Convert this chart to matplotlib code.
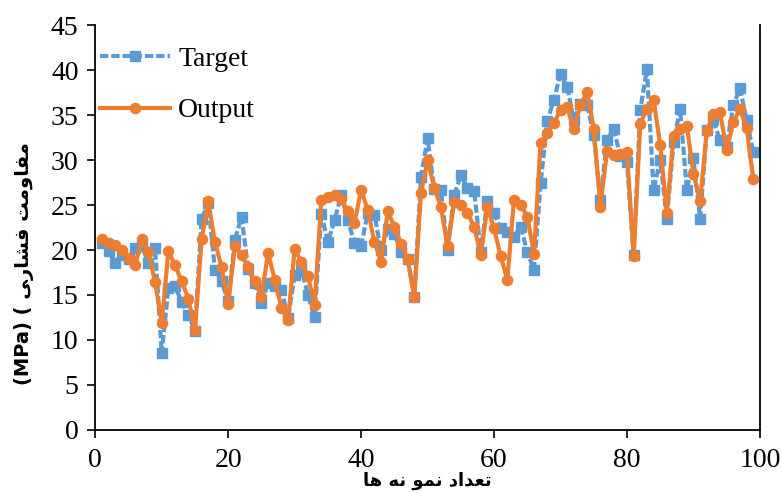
import numpy as np
import matplotlib.pyplot as plt

samples = list(range(1, 100))

target = [20.8, 19.9, 18.6, 19.5, 19.0, 20.2, 20.5, 18.5, 20.2, 8.5,
          15.8, 16.0, 14.2, 12.8, 11.0, 23.5, 25.2, 17.8, 16.5, 14.3,
          21.1, 23.7, 17.9, 16.3, 14.1, 16.3, 16.0, 15.6, 12.4, 17.2,
          17.9, 15.0, 12.5, 24.0, 20.9, 23.3, 26.1, 23.3, 20.8, 20.5,
          24.1, 23.9, 20.0, 22.3, 21.8, 19.8, 19.0, 14.8, 28.1, 32.4,
          26.8, 26.7, 20.0, 26.1, 28.3, 26.9, 26.6, 19.8, 25.5, 24.1,
          22.4, 22.0, 21.5, 22.6, 19.8, 17.8, 27.4, 34.3, 36.7, 39.6,
          38.1, 34.5, 36.2, 36.1, 32.8, 25.6, 32.2, 33.5, 30.4, 29.8,
          19.5, 35.6, 40.1, 26.7, 30.0, 23.5, 32.0, 35.7, 26.7, 30.2,
          23.5, 33.3, 34.4, 32.2, 31.5, 36.1, 38.0, 34.4, 30.9]

output = [21.2, 20.8, 20.6, 20.0, 19.1, 18.3, 21.2, 19.8, 16.4, 11.9,
          19.9, 18.3, 16.5, 14.6, 11.1, 21.2, 25.4, 20.9, 18.1, 14.0,
          20.4, 19.4, 18.1, 16.5, 14.8, 19.7, 16.7, 13.6, 12.2, 20.1,
          18.7, 17.1, 13.9, 25.6, 25.9, 26.1, 25.7, 24.3, 23.0, 26.7,
          24.4, 20.9, 18.7, 24.3, 22.6, 20.7, 19.0, 14.8, 26.3, 30.0,
          26.9, 24.8, 20.4, 25.3, 25.0, 24.1, 22.6, 19.4, 24.8, 22.4,
          19.3, 16.7, 25.6, 25.0, 23.7, 19.6, 31.9, 33.0, 34.1, 35.6,
          35.9, 33.4, 36.1, 37.6, 33.5, 24.8, 31.0, 30.6, 30.7, 30.9,
          19.3, 34.0, 35.7, 36.7, 31.7, 24.1, 32.7, 33.4, 33.8, 28.5,
          25.4, 33.2, 35.1, 35.3, 31.1, 34.2, 35.7, 33.6, 27.9]

x_ticks = [0, 20, 40, 60, 80, 100]
y_ticks = [0, 5, 10, 15, 20, 25, 30, 35, 40, 45]

# Persian labels written in visual order with presentation forms
word_moghavemat = "\uFE96\uFEE3\uFEED\uFE8E\uFED4\uFEE3"
word_feshari = "\uFEF0\uFEAD\uFE8E\uFEB8\uFED3"
ylabel_text = "(MPa) ( " + word_feshari + " " + word_moghavemat
word_ha = "\uFE8E\uFEEB"
word_na = "\uFEEA\uFEE7"
word_nemo = "\uFEEE\uFEE4\uFEE7"
word_tedad = "\uFEA9\uFE8D\uFEAA\uFECC\uFE97"
xlabel_text = word_ha + " " + word_na + " " + word_nemo + " " + word_tedad

blue = "#5B9BD5"
orange = "#ED7D31"

fig = plt.figure(figsize=(7.81, 4.93), dpi=100)
ax = fig.add_axes([0.122, 0.128, 0.851, 0.821])

ax.plot(samples, target, color=blue, linestyle=(0, (2, 0.7)), linewidth=3,
        marker="s", markersize=6.8, label="Target", zorder=2)
ax.plot(samples, output, color=orange, linestyle="-", linewidth=3,
        marker="o", markersize=7.3, label="Output", zorder=3)

ax.set_xlim(0, 100)
ax.set_ylim(0, 45)
ax.set_xticks(x_ticks)
ax.set_yticks(y_ticks)
ax.tick_params(direction="out", length=6, width=1.2, labelsize=20, colors="black")
ax.tick_params(axis="x", pad=7)
ax.tick_params(axis="y", pad=6)
for lab in ax.get_xticklabels() + ax.get_yticklabels():
    lab.set_fontfamily("Liberation Serif")
for s in ["left", "bottom", "right", "top"]:
    ax.spines[s].set_linewidth(1.3)
    ax.spines[s].set_color("black")
ax.spines["top"].set_visible(False)

ax.set_ylabel(ylabel_text, fontsize=14, fontweight="bold",
              family=["DejaVu Sans"], va="center")
ax.yaxis.set_label_coords(-0.108, 0.41)
ax.set_xlabel(xlabel_text, fontsize=13, fontweight="bold",
              family=["DejaVu Sans"], va="center")
ax.xaxis.set_label_coords(0.5, -0.127)

leg = ax.legend(loc="upper left", bbox_to_anchor=(-0.03, 1.01), frameon=False,
                prop={"family": "Liberation Serif", "size": 20},
                handlelength=2.5, labelspacing=0.95, handletextpad=0.3)

fig.savefig("out.png", dpi=100)
